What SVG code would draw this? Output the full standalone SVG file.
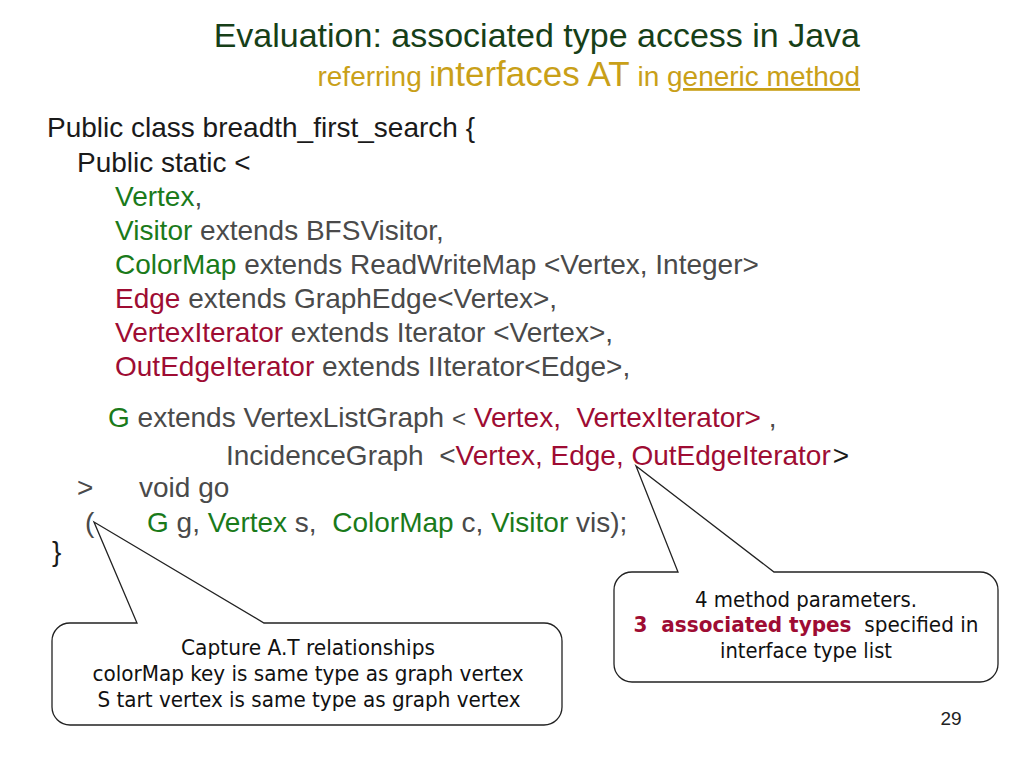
<svg xmlns="http://www.w3.org/2000/svg" width="1024" height="768" viewBox="0 0 1024 768">
<style>
text{font-family:"Liberation Sans",Arial,sans-serif;white-space:pre;}
.code{font-size:28px;fill:#4a4a4a;}
.blk{fill:#1a1a1a;}
.g{fill:#1a7a1a;}
.r{fill:#9e0c33;}
.title{font-size:34px;fill:#173f18;}
.sub{fill:#c9a018;}
.call{font-family:"DejaVu Sans Condensed","DejaVu Sans",sans-serif;font-stretch:condensed;font-size:21px;fill:#111;}
.bubble{fill:#fff;stroke:#222;stroke-width:1.3;}
</style>
<rect width="1024" height="768" fill="#fff"/>
<g id="title">
<text class="title" x="860" y="47" text-anchor="end">Evaluation: associated type access in Java</text>
<text x="860" y="86" text-anchor="end" class="sub" xml:space="preserve"><tspan font-size="28">referring i</tspan><tspan font-size="35">nterfaces AT</tspan><tspan font-size="28"> in </tspan><tspan font-size="28" text-decoration="underline">generic method</tspan></text>
</g>
<g id="code" class="code">
<text class="code blk" x="47" y="137">Public class breadth_first_search {</text>
<text class="code blk" x="77" y="172">Public static &lt;</text>
<text class="code" x="115" y="206"><tspan class="g">Vertex</tspan>,</text>
<text class="code" x="115" y="240" xml:space="preserve"><tspan class="g">Visitor</tspan> extends BFSVisitor,</text>
<text class="code" x="115" y="274" xml:space="preserve"><tspan class="g">ColorMap</tspan> extends ReadWriteMap &lt;Vertex, Integer&gt;</text>
<text class="code" x="115" y="308" xml:space="preserve"><tspan class="r">Edge</tspan> extends GraphEdge&lt;Vertex&gt;,</text>
<text class="code" x="115" y="342" xml:space="preserve"><tspan class="r">VertexIterator</tspan> extends Iterator &lt;Vertex&gt;,</text>
<text class="code" x="115" y="376" xml:space="preserve"><tspan class="r">OutEdgeIterator</tspan> extends IIterator&lt;Edge&gt;,</text>
<text class="code" x="108" y="427" xml:space="preserve"><tspan class="g">G</tspan> extends VertexListGraph <tspan font-size="24">&lt;</tspan> <tspan class="r">Vertex,  VertexIterator&gt;</tspan> ,</text>
<text class="code" x="226" y="465" xml:space="preserve">IncidenceGraph  &lt;<tspan class="r">Vertex, Edge, OutEdgeIterator</tspan><tspan class="blk" dx="2">&gt;</tspan></text>
<text class="code" x="77" y="497">&gt;</text>
<text class="code" x="139" y="497">void go</text>
<text class="code" x="85" y="532">(</text>
<text class="code" x="147" y="532" xml:space="preserve"><tspan class="g">G</tspan> g, <tspan class="g">Vertex</tspan> s,  <tspan class="g">ColorMap</tspan> c, <tspan class="g">Visitor</tspan> vis);</text>
<text class="code blk" x="52" y="561">}</text>
</g>
<g id="connectors"/>
<g id="callout-left">
<path class="bubble" d="M70,623 L137,623 L94,522 L264,623 L544,623 A18,18 0 0 1 562,641 L562,707 A18,18 0 0 1 544,725 L70,725 A18,18 0 0 1 52,707 L52,641 A18,18 0 0 1 70,623 Z"/>
<text class="call" x="308" y="655" text-anchor="middle" textLength="254" lengthAdjust="spacingAndGlyphs">Capture A.T relationships</text>
<text class="call" x="308" y="681" text-anchor="middle" textLength="431" lengthAdjust="spacingAndGlyphs">colorMap key is same type as graph vertex</text>
<text class="call" x="309" y="707" text-anchor="middle" textLength="423" lengthAdjust="spacingAndGlyphs">S tart vertex is same type as graph vertex</text>
</g>
<g id="callout-right">
<path class="bubble" d="M632,572 L678,572 L636,466 L774,572 L980,572 A18,18 0 0 1 998,590 L998,664 A18,18 0 0 1 980,682 L632,682 A18,18 0 0 1 614,664 L614,590 A18,18 0 0 1 632,572 Z"/>
<text class="call" x="806" y="607" text-anchor="middle" textLength="222" lengthAdjust="spacingAndGlyphs">4 method parameters.</text>
<text class="call" x="806" y="632" text-anchor="middle" textLength="345" lengthAdjust="spacingAndGlyphs" xml:space="preserve"><tspan font-weight="bold" fill="#9e0c33">3  associated types</tspan>  specified in</text>
<text class="call" x="806" y="658" text-anchor="middle" textLength="172" lengthAdjust="spacingAndGlyphs">interface type list</text>
</g>
<g id="page-number">
<text x="951" y="725" text-anchor="middle" font-size="19" fill="#222">29</text>
</g>
</svg>
